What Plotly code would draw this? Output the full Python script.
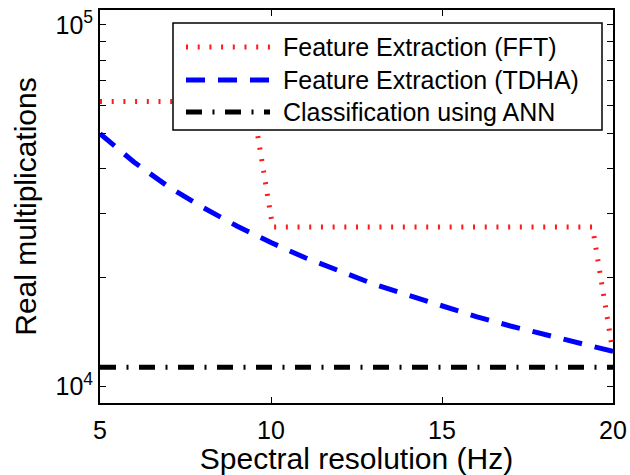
import plotly.graph_objects as go

# Spectral resolution (Hz) and real-multiplication counts per processing stage
fft_x = [5, 9.45, 10.05, 19.4, 20]
fft_y = [61400, 61400, 27600, 27600, 12400]

tdha_x = [5, 6, 7, 8, 9, 10, 11, 12, 13, 14, 15, 16, 17, 18, 19, 20]
tdha_y = [50000, 41700, 35700, 31300, 27800, 25000, 22700, 20800,
          19200, 17900, 16700, 15600, 14700, 13900, 13200, 12500]

ann_x = [5, 20]
ann_y = [11300, 11300]

series_names = ["Feature Extraction (FFT)", "Feature Extraction (TDHA)",
                "Classification using ANN"]

y_tick_vals = [1e4, 1e5]
y_tick_text = ["10<sup>4</sup>", "10<sup>5</sup>"]
y_minor_vals = [2e4, 3e4, 4e4, 5e4, 6e4, 7e4, 8e4, 9e4]
x_tick_vals = [5, 10, 15, 20]

FONT = "Liberation Sans, Arial, Helvetica, sans-serif"
FS = 25
styles = [
    dict(color="#ff1a1a", width=5, dash="2px,9.7px"),
    dict(color="#0000ff", width=5, dash="19px,13px"),
    dict(color="#000000", width=5, dash="16px,10.5px,2px,10.5px"),
]

fig = go.Figure()
for xs, ys, name, st in zip([fft_x, tdha_x, ann_x], [fft_y, tdha_y, ann_y],
                            series_names, styles):
    fig.add_trace(go.Scatter(x=xs, y=ys, mode="lines", name=name,
                             line=st, showlegend=False))

axis_common = dict(ticks="inside", ticklen=6, tickwidth=1.2, tickcolor="black",
                   showline=True, linecolor="black", linewidth=1.8,
                   mirror="ticks", showgrid=False, zeroline=False,
                   automargin=False)

fig.update_layout(
    width=630, height=475,
    margin=dict(l=100, r=17, t=10, b=72),
    paper_bgcolor="white", plot_bgcolor="white",
    font=dict(family=FONT, size=FS, color="black"),
    xaxis=dict(range=[5, 20], tickvals=x_tick_vals, ticklabelstandoff=4,
               title=dict(text="Spectral resolution (Hz)", standoff=0),
               **axis_common),
    yaxis=dict(type="log", range=[3.9542, 5.0414], tickvals=y_tick_vals,
               ticktext=y_tick_text,
               minor=dict(tickvals=y_minor_vals, ticks="inside", ticklen=6,
                          tickwidth=1.2, tickcolor="black"),
               title=dict(text="Real multiplications", standoff=10),
               **axis_common),
)

# Legend box drawn in paper coordinates
def px_x(p):
    return (p - 100) / 513.0

def px_y(p):
    return (403 - p) / 393.0

fig.add_shape(type="rect", xref="paper", yref="paper",
              x0=px_x(173), x1=px_x(602), y0=px_y(130), y1=px_y(23),
              line=dict(color="black", width=1.5), fillcolor="white", layer="above")

rows = [47, 80, 112]
for name, st, ry in zip(series_names, styles, rows):
    fig.add_shape(type="line", xref="paper", yref="paper",
                  x0=px_x(186), x1=px_x(270), y0=px_y(ry), y1=px_y(ry),
                  line=st, layer="above")
    fig.add_annotation(text=name, xref="paper", yref="paper",
                       x=px_x(281), y=px_y(ry), xanchor="left", yanchor="middle",
                       showarrow=False, font=dict(family=FONT, size=FS, color="black"))

fig.write_html("out.html")
